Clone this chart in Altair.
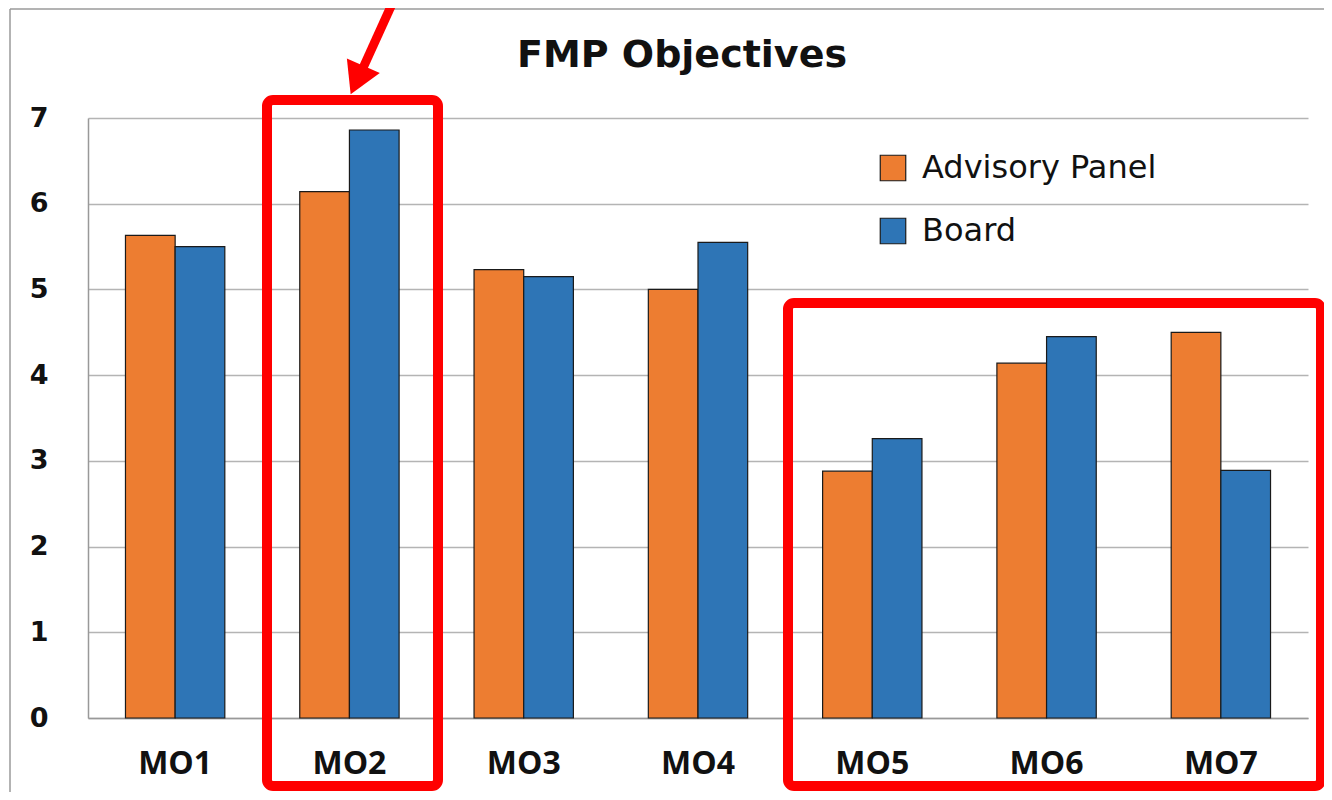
import altair as alt
import pandas as pd

categories = ["MO1", "MO2", "MO3", "MO4", "MO5", "MO6", "MO7"]
advisory_panel = [5.63, 6.14, 5.23, 5.00, 2.88, 4.14, 4.50]
board = [5.50, 6.86, 5.15, 5.55, 3.26, 4.45, 2.89]
series_names = ["Advisory Panel", "Board"]
series_colors = ["#ED7D31", "#2E75B6"]

rows = []
for c, a, b in zip(categories, advisory_panel, board):
    rows.append({"cat": c, "series": series_names[0], "value": a})
    rows.append({"cat": c, "series": series_names[1], "value": b})
df = pd.DataFrame(rows)

W, H = 1220, 600

bars = alt.Chart(df).mark_bar(stroke="#1a1a1a", strokeWidth=1.2).encode(
    x=alt.X("cat:N", sort=categories, title=None,
            scale=alt.Scale(paddingInner=0.43, paddingOuter=0.215),
            axis=alt.Axis(labelAngle=0, labelFontSize=32, labelFont="Open Sans",
                          labelFontWeight="bold", labelColor="#111", labelPadding=30,
                          ticks=False, domainColor="#999", domainWidth=1.5)),
    xOffset=alt.XOffset("series:N", sort=series_names),
    y=alt.Y("value:Q", title=None,
            scale=alt.Scale(domain=[0, 7]),
            axis=alt.Axis(values=[0, 1, 2, 3, 4, 5, 6, 7], labelFontSize=27,
                          labelFont="DejaVu Sans", labelFontWeight="bold",
                          labelColor="#111", labelPadding=40, ticks=False,
                          domainColor="#999", domainWidth=1.5,
                          gridColor="#b4b4b4", gridWidth=1.5)),
    color=alt.Color("series:N", sort=series_names,
                    scale=alt.Scale(domain=series_names, range=series_colors),
                    legend=alt.Legend(title=None, orient="none", legendX=789, legendY=34,
                                      symbolType="square", symbolSize=650,
                                      symbolStrokeColor="#1a1a1a", symbolStrokeWidth=1.2,
                                      labelFontSize=32, labelFont="DejaVu Sans",
                                      labelColor="#111", rowPadding=31, labelOffset=13,
                                      labelLimit=500)),
)

ann = pd.DataFrame({"d": [0]})
base = alt.Chart(ann)

frame_top = base.mark_rule(color="#9a9a9a", strokeWidth=1.5).encode(
    x=alt.value(-78), x2=alt.value(1240), y=alt.value(-109))
frame_left = base.mark_rule(color="#9a9a9a", strokeWidth=1.5).encode(
    x=alt.value(-78), y=alt.value(-109), y2=alt.value(700))

box1 = base.mark_rect(fill=None, stroke="#FF0000", strokeWidth=10, cornerRadius=6).encode(
    x=alt.value(179), x2=alt.value(350), y=alt.value(-18), y2=alt.value(668))
box2 = base.mark_rect(fill=None, stroke="#FF0000", strokeWidth=10, cornerRadius=6).encode(
    x=alt.value(700), x2=alt.value(1233), y=alt.value(185), y2=alt.value(668))

arrow_line = base.mark_rule(color="#FF0000", strokeWidth=9).encode(
    x=alt.value(309), y=alt.value(-125), x2=alt.value(275), y2=alt.value(-50))
arrow_head = base.mark_point(shape="triangle-down", filled=True, color="#FF0000",
                             size=1300, angle=24, opacity=1).encode(
    x=alt.value(269), y=alt.value(-38))

title = base.mark_text(text="FMP Objectives", fontSize=38, fontWeight="bold",
                       font="DejaVu Sans", color="#111", align="center",
                       baseline="alphabetic").encode(
    x=alt.value(594), y=alt.value(-51))

chart = alt.layer(frame_top, frame_left, bars, box1, box2, arrow_line, arrow_head, title).properties(
    width=W, height=H,
    autosize=alt.AutoSizeParams(type="none"),
    padding={"left": 80, "top": 110, "right": 16, "bottom": 74},
).configure_view(stroke=None)

chart.save("out.html", embed_options={"renderer": "svg", "actions": False})
